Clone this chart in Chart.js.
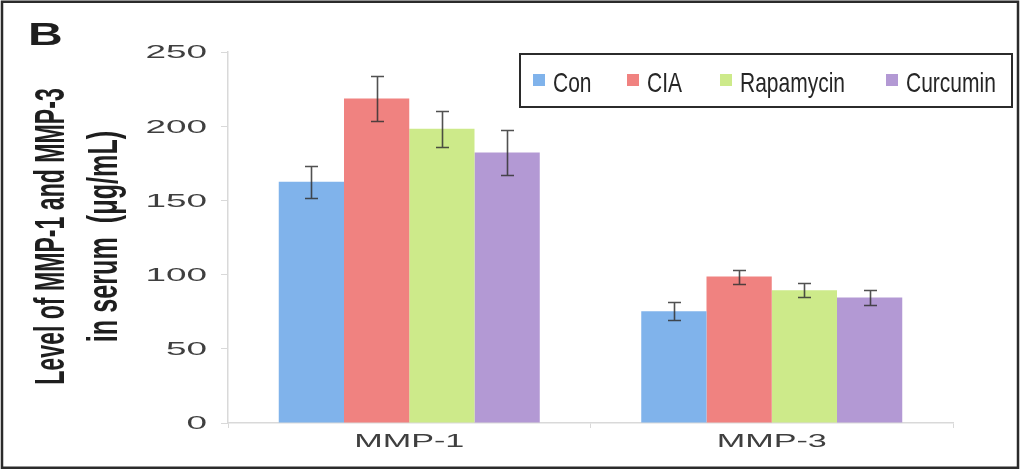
<!DOCTYPE html>
<html>
<head>
<meta charset="utf-8">
<title>MMP-1 and MMP-3 in serum</title>
<script src="https://cdn.jsdelivr.net/npm/chart.js@4/dist/chart.umd.min.js"></script>
<style>
  html, body { margin: 0; padding: 0; background: #ffffff; }
  #wrap { width: 1020px; height: 469px; }
</style>
</head>
<body>
<div id="wrap"><canvas id="c" width="1020" height="469"></canvas></div>
<script>
// Serum levels (µg/mL), mean and error per group
const categories = ['MMP-1', 'MMP-3'];
const groupNames = ['Con', 'CIA', 'Rapamycin', 'Curcumin'];
const conValues = [162.5, 75.3];
const conErrors = [11, 6];
const ciaValues = [218.6, 98.7];
const ciaErrors = [15, 4.7];
const rapamycinValues = [198.2, 89.4];
const rapamycinErrors = [12, 4.7];
const curcuminValues = [182.3, 84.5];
const curcuminErrors = [15, 5.3];
const yTickValues = [0, 50, 100, 150, 200, 250];
const panelLetter = 'B';
const yTitleLines = ['Level of MMP-1 and MMP-3', 'in serum  (\u03bcg/mL)'];

const groupColors = ['#80b3eb', '#f08280', '#cdea8a', '#b399d4'];
const seriesValues = [conValues, ciaValues, rapamycinValues, curcuminValues];
const seriesErrors = [conErrors, ciaErrors, rapamycinErrors, curcuminErrors];

const datasets = groupNames.map((name, i) => ({
  label: name,
  data: seriesValues[i],
  errors: seriesErrors[i],
  backgroundColor: groupColors[i],
  borderWidth: 0,
  categoryPercentage: 0.72,
  barPercentage: 1.0
}));

// Draws text squeezed or widened along its reading direction
function stretchedText(ctx, text, x, y, sx, align) {
  ctx.save();
  ctx.translate(x, y);
  ctx.scale(sx, 1);
  ctx.textAlign = align;
  ctx.fillText(text, 0, 0);
  ctx.restore();
}

// Mean ± error whiskers on each bar
const errorBars = {
  id: 'errorBars',
  afterDatasetsDraw(chart) {
    const ctx = chart.ctx;
    const yScale = chart.scales.y;
    ctx.save();
    ctx.strokeStyle = 'rgba(50,50,50,0.85)';
    ctx.lineWidth = 1.6;
    chart.data.datasets.forEach((ds, di) => {
      const meta = chart.getDatasetMeta(di);
      meta.data.forEach((bar, i) => {
        const v = ds.data[i], e = ds.errors[i];
        const yHi = Math.round(yScale.getPixelForValue(v + e)) + 0.5;
        const yLo = Math.round(yScale.getPixelForValue(v - e)) + 0.5;
        const x = Math.round(bar.x) + 0.5;
        const cap = 6.5;
        ctx.beginPath();
        ctx.moveTo(x, yHi); ctx.lineTo(x, yLo);
        ctx.moveTo(x - cap, yHi); ctx.lineTo(x + cap, yHi);
        ctx.moveTo(x - cap, yLo); ctx.lineTo(x + cap, yLo);
        ctx.stroke();
      });
    });
    ctx.restore();
  }
};

// Frame, panel letter, axis labels and legend box
const decorations = {
  id: 'decorations',
  afterDraw(chart) {
    const ctx = chart.ctx;
    const yScale = chart.scales.y;
    const xScale = chart.scales.x;
    const area = chart.chartArea;
    ctx.save();

    // outer frame
    ctx.strokeStyle = '#2b2b2b';
    ctx.lineWidth = 2.5;
    ctx.strokeRect(2, 1.75, 1016, 466);

    // panel letter
    ctx.fillStyle = '#1e1e1e';
    ctx.font = 'bold 31px "Liberation Sans", Arial, sans-serif';
    ctx.textBaseline = 'alphabetic';
    stretchedText(ctx, panelLetter, 28, 45, 1.55, 'left');

    // y tick labels
    ctx.fillStyle = '#3f3f3f';
    ctx.font = '18px "Liberation Sans", Arial, sans-serif';
    ctx.textBaseline = 'middle';
    yScale.ticks.forEach(t => {
      const y = yScale.getPixelForValue(t.value);
      stretchedText(ctx, String(t.value), 207, y + 1.5, 2.05, 'right');
    });

    // category labels
    ctx.textBaseline = 'alphabetic';
    categories.forEach((c, i) => {
      const x = xScale.getPixelForValue(i);
      stretchedText(ctx, c, x, 447, 1.9, 'center');
    });

    // y axis title, two rotated lines
    ctx.fillStyle = '#1e1e1e';
    ctx.font = 'bold 42px "Liberation Sans", Arial, sans-serif';
    const cy = (area.top + area.bottom) / 2 - 1;
    const baselines = [64, 117];
    const squeeze = [0.55, 0.6];
    yTitleLines.forEach((line, i) => {
      ctx.save();
      ctx.translate(baselines[i], cy);
      ctx.rotate(-Math.PI / 2);
      ctx.scale(squeeze[i], 1);
      ctx.textAlign = 'center';
      ctx.fillText(line, 0, 0);
      ctx.restore();
    });

    // legend
    ctx.strokeStyle = '#2b2b2b';
    ctx.lineWidth = 2;
    ctx.strokeRect(520, 54, 492, 53);
    const markerX = [533, 627, 720, 886];
    const textX = [553, 647, 740, 906];
    ctx.font = '28px "Liberation Sans", Arial, sans-serif';
    chart.data.datasets.forEach((ds, i) => {
      ctx.fillStyle = ds.backgroundColor;
      ctx.fillRect(markerX[i], 74, 12, 12);
      ctx.fillStyle = '#262626';
      stretchedText(ctx, ds.label, textX[i], 92, 0.75, 'left');
    });

    ctx.restore();
  }
};

new Chart(document.getElementById('c'), {
  type: 'bar',
  data: { labels: categories, datasets },
  options: {
    responsive: false,
    animation: false,
    devicePixelRatio: 1,
    layout: { padding: { left: 221, right: 67, top: 52, bottom: 41 } },
    plugins: { legend: { display: false }, tooltip: { enabled: false } },
    scales: {
      x: {
        offset: true,
        grid: { display: true, drawOnChartArea: false, drawTicks: true, tickLength: 5, color: '#d9d9d9', offset: true },
        border: { display: true, color: '#d9d9d9', width: 1.5 },
        ticks: { display: false }
      },
      y: {
        min: 0,
        max: 250,
        afterBuildTicks(scale) { scale.ticks = yTickValues.map(v => ({ value: v })); },
        grid: { display: true, drawOnChartArea: false, drawTicks: true, tickLength: 7, color: '#d9d9d9' },
        border: { display: true, color: '#d9d9d9', width: 1.5 },
        ticks: { display: false }
      }
    }
  },
  plugins: [errorBars, decorations]
});
</script>
</body>
</html>
